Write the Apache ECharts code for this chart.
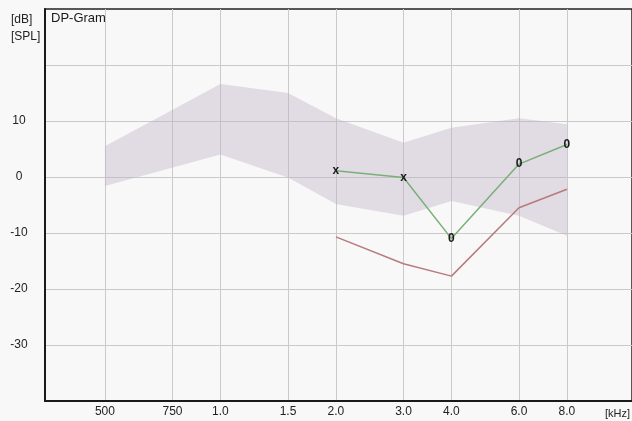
<!DOCTYPE html>
<html><head><meta charset="utf-8">
<script src="https://cdn.jsdelivr.net/npm/echarts@6/dist/echarts.min.js"></script>
<style>html,body{margin:0;padding:0;background:#f8f8f8}#c{width:632px;height:421px}</style>
</head><body><div id="c"></div>
<script>
// ---- data ----
const freqTicks = [500, 750, 1000, 1500, 2000, 3000, 4000, 6000, 8000];
const freqTickLabels = ['500', '750', '1.0', '1.5', '2.0', '3.0', '4.0', '6.0', '8.0'];
const levelGridValues = [-30, -20, -10, 0, 10, 20];
const levelLabelValues = [-30, -20, -10, 0, 10];
const bandFreqs = [500, 1000, 1500, 2000, 3000, 4000, 6000, 8000];
const bandUpper = [5.5, 16.6, 15.0, 10.5, 6.1, 8.8, 10.5, 9.4];
const bandLower = [-1.6, 4.0, -0.1, -4.8, -6.9, -4.3, -6.9, -10.5];
const dpFreqs = [2000, 3000, 4000, 6000, 8000];
const dpLevels = [1.1, -0.1, -11.0, 2.3, 5.8];
const dpMarkers = ['x', 'x', '0', '0', '0'];
const noiseFreqs = [2000, 3000, 4000, 6000, 8000];
const noiseLevels = [-10.7, -15.5, -17.7, -5.5, -2.2];

const FONT = 'Liberation Sans, Arial, sans-serif';
function freqLabel(v) {
  let best = 0;
  freqTicks.forEach((f, i) => { if (Math.abs(f - v) < Math.abs(freqTicks[best] - v)) best = i; });
  return freqTickLabels[best];
}

const chart = echarts.init(document.getElementById('c'), null, {renderer: 'canvas'});
chart.setOption({
  backgroundColor: '#f8f8f8',
  animation: false,
  title: [
    {text: 'DP-Gram', left: 46, top: 7, textStyle: {fontSize: 13, fontWeight: 'normal', color: '#1a1a1a', fontFamily: FONT}},
    {text: '[dB]\n[SPL]', left: 6, top: 6, textStyle: {fontSize: 12, fontWeight: 'normal', color: '#222', fontFamily: FONT, lineHeight: 17}},
    {text: '[kHz]', left: 600, top: 403, textStyle: {fontSize: 11, fontWeight: 'normal', color: '#222', fontFamily: FONT}}
  ],
  grid: {left: 45, top: 9, right: 0, bottom: 20, show: true, borderColor: '#222', borderWidth: 1.5, backgroundColor: 'transparent'},
  xAxis: {
    type: 'log', logBase: 2, min: 349, max: 11820,
    axisLine: {show: true, onZero: false, lineStyle: {color: '#1a1a1a', width: 2}},
    axisTick: {show: false, customValues: freqTicks},
    axisLabel: {customValues: freqTicks, formatter: freqLabel, margin: 5, fontSize: 12, color: '#222', fontFamily: FONT},
    splitLine: {show: true, lineStyle: {color: '#cacaca', width: 1}}
  },
  yAxis: {
    type: 'value', min: -40, max: 30,
    axisLine: {show: true, lineStyle: {color: '#1a1a1a', width: 2}},
    axisTick: {show: false, customValues: levelGridValues},
    axisLabel: {customValues: levelLabelValues, align: 'center', margin: 26, fontSize: 12, color: '#222', fontFamily: FONT},
    splitLine: {show: true, lineStyle: {color: '#cacaca', width: 1}}
  },
  series: [
    {
      type: 'custom', coordinateSystem: 'cartesian2d', z: 1, silent: true,
      data: [[bandFreqs[0], bandLower[0]]],
      renderItem(params, api) {
        const pts = [];
        bandFreqs.forEach((f, i) => pts.push(api.coord([f, bandUpper[i]])));
        for (let i = bandFreqs.length - 1; i >= 0; i--) pts.push(api.coord([bandFreqs[i], bandLower[i]]));
        return {type: 'polygon', shape: {points: pts}, style: {fill: 'rgba(190,175,195,0.4)'}};
      }
    },
    {
      type: 'line', z: 3,
      data: noiseFreqs.map((f, i) => [f, noiseLevels[i]]),
      symbol: 'none',
      lineStyle: {color: '#b87a7e', width: 1.5}
    },
    {
      type: 'line', z: 4,
      data: dpFreqs.map((f, i) => [f, dpLevels[i]]),
      symbol: 'circle', symbolSize: 1,
      itemStyle: {color: 'rgba(0,0,0,0)'},
      lineStyle: {color: '#78b078', width: 1.5},
      label: {
        show: true, position: 'inside', color: '#1a1a1a', fontSize: 12, fontWeight: 'bold', fontFamily: FONT,
        formatter: p => dpMarkers[p.dataIndex]
      }
    }
  ]
});
</script>
</body></html>
